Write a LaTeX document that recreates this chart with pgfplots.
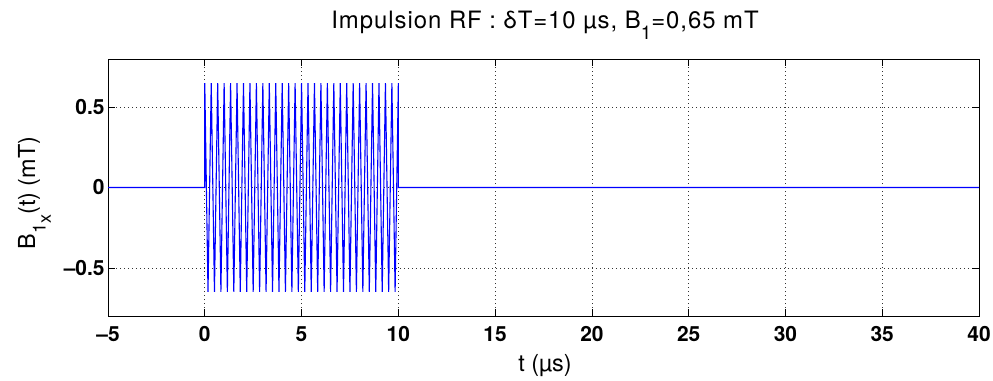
\documentclass[border=0pt]{standalone}
\usepackage{fontspec}
\setmainfont{TeX Gyre Heros}
\usepackage{pgfplots}
\pgfplotsset{compat=1.18}
\begin{document}
\begin{tikzpicture}[x=1bp,y=1bp]
\useasboundingbox (0,0) rectangle (993,380);
\begin{axis}[
  at={(108bp,64bp)}, anchor=south west, scale only axis,
  width=871bp, height=257bp,
  xmin=-5, xmax=40, ymin=-0.8, ymax=0.8,
  xtick={-5,0,5,10,15,20,25,30,35,40},
  xticklabels={--5,0,5,10,15,20,25,30,35,40},
  ytick={-0.5,0,0.5},
  yticklabels={--0.5,0,0.5},
  grid=major,
  major grid style={black!80, line width=0.6bp, dash pattern=on 0.8bp off 3.2bp},
  tick align=inside, major tick length=7bp,
  tick style={black, line width=0.6bp},
  axis line style={black, line width=0.8bp},
  tick label style={font=\fontsize{21}{24}\selectfont\bfseries},
  xticklabel style={anchor=base, yshift=-25bp},
]
\addplot[blue, line width=1.1bp, mark=none] coordinates {
(-5,0) (0,0) (0,0.65)
(0.1667,-0.65) (0.3333,0.65) (0.5,-0.65) (0.6667,0.65) (0.8333,-0.65) (1,0.65)
(1.1667,-0.65) (1.3333,0.65) (1.5,-0.65) (1.6667,0.65) (1.8333,-0.65) (2,0.65)
(2.1667,-0.65) (2.3333,0.65) (2.5,-0.65) (2.6667,0.65) (2.8333,-0.65) (3,0.65)
(3.1667,-0.65) (3.3333,0.65) (3.5,-0.65) (3.6667,0.65) (3.8333,-0.65) (4,0.65)
(4.1667,-0.65) (4.3333,0.65) (4.5,-0.65) (4.6667,0.65) (4.8333,-0.65) (5,0.65)
(5.1667,-0.65) (5.3333,0.65) (5.5,-0.65) (5.6667,0.65) (5.8333,-0.65) (6,0.65)
(6.1667,-0.65) (6.3333,0.65) (6.5,-0.65) (6.6667,0.65) (6.8333,-0.65) (7,0.65)
(7.1667,-0.65) (7.3333,0.65) (7.5,-0.65) (7.6667,0.65) (7.8333,-0.65) (8,0.65)
(8.1667,-0.65) (8.3333,0.65) (8.5,-0.65) (8.6667,0.65) (8.8333,-0.65) (9,0.65)
(9.1667,-0.65) (9.3333,0.65) (9.5,-0.65) (9.6667,0.65) (9.8333,-0.65) (10,0.65)
(10,0) (40,0)
};
\end{axis}
\node[font=\fontsize{24}{28}\selectfont\addfontfeature{LetterSpace=4}, anchor=base] at (545,352) {Impulsion RF : δT=10 µs, B\raisebox{-0.5em}{\fontsize{19}{22}\selectfont 1}=0,65 mT};
\node[font=\fontsize{23.5}{27}\selectfont, anchor=base] at (545,9) {t (µs)};
\node[font=\fontsize{23.5}{27}\selectfont, rotate=90, anchor=base] at (35,187) {B\raisebox{-0.45em}{\fontsize{18}{21}\selectfont 1\raisebox{-0.3em}{x}}(t) (mT)};
\end{tikzpicture}
\end{document}
